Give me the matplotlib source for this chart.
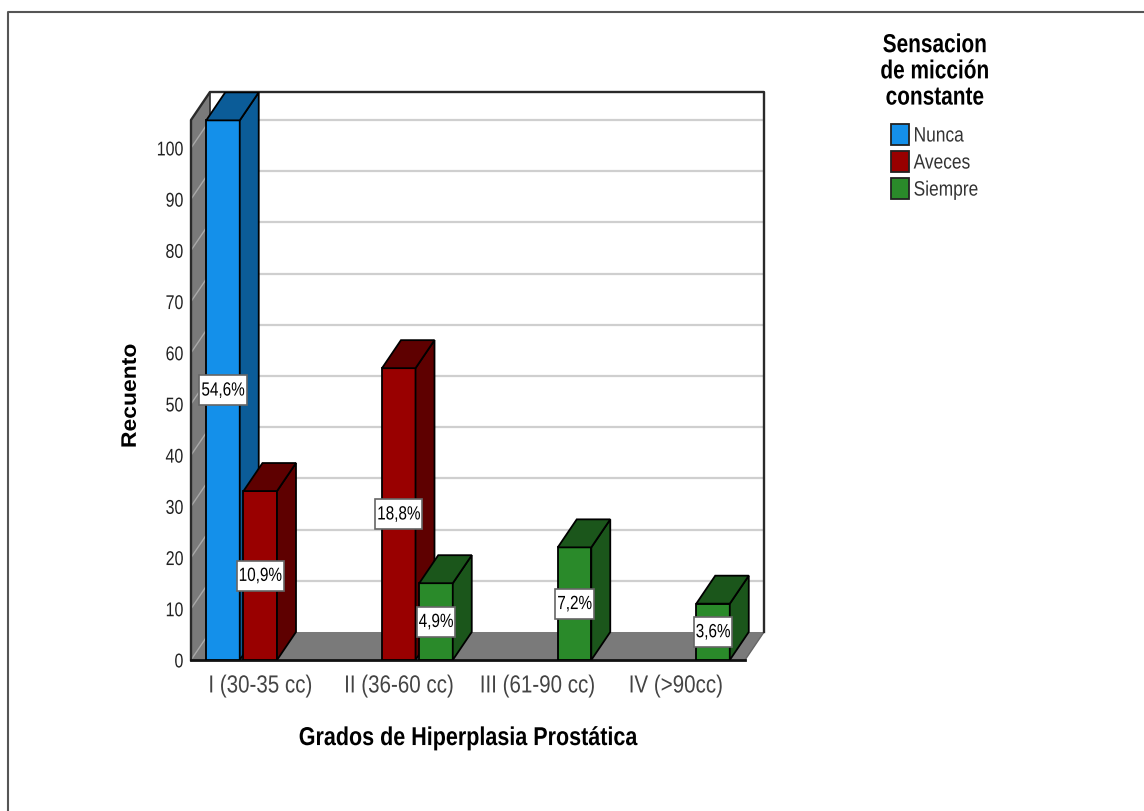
import matplotlib
matplotlib.use("Agg")
import matplotlib.pyplot as plt
from matplotlib.lines import Line2D
from matplotlib.patches import Patch
from matplotlib.path import Path
from matplotlib.patheffects import AbstractPathEffect
from matplotlib.transforms import Affine2D

categories = ["I (30-35 cc)", "II (36-60 cc)", "III (61-90 cc)", "IV (>90cc)"]
series_names = ["Nunca", "Aveces", "Siempre"]
nunca = [105.4, 0, 0, 0]
aveces = [33, 57, 0, 0]
siempre = [0, 15, 22, 11]
nunca_pct = ["54,6%", "", "", ""]
aveces_pct = ["10,9%", "18,8%", "", ""]
siempre_pct = ["", "4,9%", "7,2%", "3,6%"]
y_ticks = [0, 10, 20, 30, 40, 50, 60, 70, 80, 90, 100]

# front, side colours per series
colors = [("#1490EA", "#0B5C98"), ("#990000", "#5E0000"), ("#2A8A2A", "#1B561B")]

W, H = 1144, 811
DX = 0.137    # depth of the 3d effect in category units
DY = 5.47     # same, in counts
BAR_W = 0.242
SLOT = 0.269
TOP = 105.47
X0, X1 = -0.5, 3.5
FONT = ["Liberation Sans", "DejaVu Sans"]


class Tall(AbstractPathEffect):
    # stretches glyphs along their height, around the middle of the capitals
    def __init__(self, sy):
        super().__init__()
        self.sy = sy

    def draw_path(self, renderer, gc, tpath, affine, rgbFace=None):
        stretch = Affine2D().translate(0, -36).scale(1, self.sy).translate(0, 36)
        renderer.draw_path(gc, tpath, stretch + affine, rgbFace)


def label_box(x0, y0, width, height, mutation_size=None):
    # fixed padding, wider vertically than horizontally
    px, py = 2.0, 8.0
    left, right = x0 - px, x0 + width + px
    low, high = y0 - py, y0 + height + py
    return Path([(left, low), (right, low), (right, high), (left, high), (left, low)], closed=True)


def draw_bar(ax, x, v, front, side):
    left, right = x - BAR_W / 2, x + BAR_W / 2
    ax.bar(x, v, BAR_W, color=front, edgecolor="black", linewidth=1.3, zorder=5)
    ax.fill([right, right + DX, right + DX, right],
            [0, DY, v + DY, v], facecolor=side, edgecolor="black", linewidth=1.3, zorder=5)
    ax.fill([left, left + DX, right + DX, right],
            [v, v + DY, v + DY, v], facecolor=side, edgecolor="black", linewidth=1.3, zorder=5)


fig = plt.figure(figsize=(W / 100, H / 100), dpi=100)
ax = fig.add_axes([191 / W, (H - 660) / H, (764 - 191) / W, (660 - 92) / H])
ax.set_xlim(X0, X1 + DX)
ax.set_ylim(0, TOP + DY)
for s in ax.spines.values():
    s.set_visible(False)

# walls and floor
ax.fill([X0, X0 + DX, X0 + DX, X0], [0, DY, TOP + DY, TOP], facecolor="#7A7A7A", edgecolor="none", zorder=1)
ax.fill([X0, X1, X1 + DX, X0 + DX], [0, 0, DY, DY], facecolor="#7A7A7A", edgecolor="none", zorder=1)
ax.plot([X1, X1 + DX], [0, DY], color="#666666", lw=1, zorder=2)

for t in y_ticks:
    if t > 0:
        ax.plot([X0 + DX, X1 + DX], [t + DY, t + DY], color="#CFCFCF", lw=1.6, zorder=1.5)
    ax.plot([X0, X0 + DX], [t, t + DY], color="#A8A8A8", lw=1, zorder=1.5)

ax.plot([X0, X0, X0 + DX, X1 + DX, X1 + DX], [0, TOP, TOP + DY, TOP + DY, DY], color="#2A2A2A", lw=1.7,
        clip_on=False, zorder=2)
ax.plot([X0 + DX, X0 + DX], [DY, TOP + DY], color="#2A2A2A", lw=1.2, zorder=2)
ax.plot([X0, X1], [0, 0], color="#111111", lw=2, clip_on=False, zorder=4)

# bars, then their percentage boxes on top
all_values = [nunca, aveces, siempre]
all_pct = [nunca_pct, aveces_pct, siempre_pct]
for i in range(len(categories)):
    for j, vals in enumerate(all_values):
        if vals[i] > 0:
            x = i + (j - 1) * SLOT
            draw_bar(ax, x, vals[i], colors[j][0], colors[j][1])
            ax.text(x, vals[i] / 2, all_pct[j][i], ha="center", va="center", color="black",
                    fontsize=11, family=FONT, zorder=10, path_effects=[Tall(1.25)],
                    bbox=dict(boxstyle=label_box, facecolor="white", edgecolor="#666666", linewidth=1.2))

ax.set_yticks(y_ticks)
ax.set_xticks(range(len(categories)))
ax.set_xticklabels(categories, family=FONT, fontsize=14.8, color="#444444")
ax.set_yticklabels([str(t) for t in y_ticks], family=FONT, fontsize=11.5, color="#222222")
ax.tick_params(axis="both", length=0)
ax.tick_params(axis="y", pad=5.5)
ax.tick_params(axis="x", pad=11.5)
for lab in ax.get_xticklabels():
    lab.set_path_effects([Tall(1.2)])
for lab in ax.get_yticklabels():
    lab.set_path_effects([Tall(1.25)])

ax.set_xlabel("Grados de Hiperplasia Prostática", family=FONT, fontweight="bold", fontsize=15.5,
              path_effects=[Tall(1.2)])
ax.xaxis.set_label_coords((468 - 191) / (764 - 191), -(738 - 660) / (660 - 92))
ax.xaxis.label.set_va("center")
ax.set_ylabel("Recuento", family=FONT, fontweight="bold", fontsize=16.5, path_effects=[Tall(0.92)])
ax.yaxis.set_label_coords((130 - 191) / (764 - 191), (660 - 396) / (660 - 92))
ax.yaxis.label.set_va("center")

# legend
fig.text(935 / W, 1 - 71 / H, "Sensacion\nde micción\nconstante", ha="center", va="center",
         family=FONT, fontweight="bold", fontsize=15, linespacing=1.48, path_effects=[Tall(1.25)])
handles = [Patch(facecolor=c[0], edgecolor="#222222", linewidth=1.3) for c in colors]
leg = fig.legend(handles, series_names, loc="upper left", bbox_to_anchor=(886 / W, 1 - 119 / H),
                 frameon=False, handlelength=1.0, handleheight=1.45, handletextpad=0.29,
                 labelspacing=0.37, borderpad=0.3, borderaxespad=0,
                 prop={"family": FONT, "size": 12.5}, labelcolor="#333333")
for t in leg.get_texts():
    t.set_path_effects([Tall(1.2)])

# outer frame of the output
fig.add_artist(Line2D([7.5 / W, 7.5 / W, 1], [0, 1 - 12 / H, 1 - 12 / H], color="#555555", lw=1.5))

fig.savefig("out.png", dpi=100)
